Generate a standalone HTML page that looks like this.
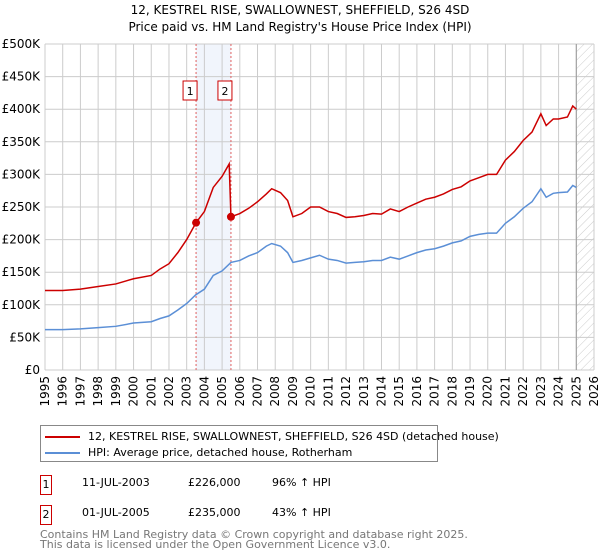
<!DOCTYPE html>
<html><head><meta charset="utf-8">
<style>
body{margin:0;background:#fff;font-family:"DejaVu Sans","Liberation Sans",sans-serif;}
#wrap{position:relative;width:600px;height:560px;overflow:hidden}
.t{position:absolute;font-size:12px;color:#000;white-space:nowrap}
</style></head><body>
<div id="wrap">
<svg id="chart" width="600" height="420" style="position:absolute;left:0;top:0"></svg>
<div style="position:absolute;left:40px;top:425px;width:396px;height:35px;border:1px solid #888;background:#fff">
 <div style="position:absolute;left:4px;top:4px;font-size:11px;white-space:nowrap"><span style="display:inline-block;width:35px;height:2px;background:#cc0000;vertical-align:middle;margin-right:8px"></span>12, KESTREL RISE, SWALLOWNEST, SHEFFIELD, S26 4SD (detached house)</div>
 <div style="position:absolute;left:4px;top:20px;font-size:11px;white-space:nowrap"><span style="display:inline-block;width:35px;height:2px;background:#5b8fd6;vertical-align:middle;margin-right:8px"></span>HPI: Average price, detached house, Rotherham</div>
</div>
<div style="position:absolute;left:40px;top:475px;width:10px;height:18px;border:1px solid #c00;font-size:11px;line-height:18px;text-align:center">1</div>
<div class="t" style="left:82px;top:476px;font-size:11px">11-JUL-2003</div>
<div class="t" style="left:188px;top:476px;font-size:11px">£226,000</div>
<div class="t" style="left:272px;top:476px;font-size:11px">96% ↑ HPI</div>
<div style="position:absolute;left:40px;top:505px;width:10px;height:18px;border:1px solid #c00;font-size:11px;line-height:18px;text-align:center">2</div>
<div class="t" style="left:82px;top:506px;font-size:11px">01-JUL-2005</div>
<div class="t" style="left:188px;top:506px;font-size:11px">£235,000</div>
<div class="t" style="left:272px;top:506px;font-size:11px">43% ↑ HPI</div>
<div class="t" style="left:40px;top:530px;font-size:11px;color:#777;line-height:10px">Contains HM Land Registry data © Crown copyright and database right 2025.<br>This data is licensed under the Open Government Licence v3.0.</div>
</div>
<script>
const hpiYears=[1995,1996,1997,1997.5,1998,1999,2000,2001,2001.5,2002,2002.5,2003,2003.5,2004,2004.5,2005,2005.5,2006,2006.5,2007,2007.5,2007.8,2008.3,2008.7,2009,2009.5,2010,2010.5,2011,2011.5,2012,2012.5,2013,2013.5,2014,2014.5,2015,2015.5,2016,2016.5,2017,2017.5,2018,2018.5,2019,2019.5,2020,2020.5,2021,2021.5,2022,2022.5,2023,2023.3,2023.7,2024,2024.5,2024.8,2025];
const hpiValues=[62,62,63,64,65,67,72,74,79,83,92,102,115,124,145,152,165,168,175,180,190,194,190,180,165,168,172,176,170,168,164,165,166,168,168,173,170,175,180,184,186,190,195,198,205,208,210,210,225,235,248,258,278,265,271,272,273,283,280];
const priceYears=[1995,1996,1997,1998,1999,2000,2001,2001.5,2002,2002.5,2003,2003.53,2004,2004.5,2005,2005.4,2005.5,2006,2006.5,2007,2007.5,2007.8,2008.3,2008.7,2009,2009.5,2010,2010.5,2011,2011.5,2012,2012.5,2013,2013.5,2014,2014.5,2015,2015.5,2016,2016.5,2017,2017.5,2018,2018.5,2019,2019.5,2020,2020.5,2021,2021.5,2022,2022.5,2023,2023.3,2023.7,2024,2024.5,2024.8,2025];
const priceValues=[122,122,124,128,132,140,145,155,163,180,200,226,243,280,297,316,235,240,248,258,270,278,272,260,235,240,250,250,243,240,234,235,237,240,239,247,243,250,256,262,265,270,277,281,290,295,300,300,322,335,352,365,393,375,385,385,388,405,400];
const saleYears=[2003.53,2005.5];
const saleValues=[226,235];
const saleLabels=["1","2"];
const yTicks=[0,50,100,150,200,250,300,350,400,450,500];
const yTickLabels=["£0","£50K","£100K","£150K","£200K","£250K","£300K","£350K","£400K","£450K","£500K"];
const xTicks=[1995,1996,1997,1998,1999,2000,2001,2002,2003,2004,2005,2006,2007,2008,2009,2010,2011,2012,2013,2014,2015,2016,2017,2018,2019,2020,2021,2022,2023,2024,2025,2026];

const L=45,R=594,T=44,B=370,X0=1995,X1=2026,YMAX=500;
const xs=v=>L+(v-X0)/(X1-X0)*(R-L);
const ys=v=>B-v/YMAX*(B-T);
const svg=document.getElementById('chart');
const NS='http://www.w3.org/2000/svg';
function mk(tag,attrs){const e=document.createElementNS(NS,tag);for(const k in attrs)e.setAttribute(k,attrs[k]);svg.appendChild(e);return e;}

const title=mk('text',{x:300,y:14,'text-anchor':'middle','font-size':12,'font-family':'DejaVu Sans, Liberation Sans, sans-serif'});
title.textContent='12, KESTREL RISE, SWALLOWNEST, SHEFFIELD, S26 4SD';


const sub=mk('text',{x:300,y:31,'text-anchor':'middle','font-size':12,'font-family':'DejaVu Sans, Liberation Sans, sans-serif'});
sub.textContent="Price paid vs. HM Land Registry's House Price Index (HPI)";



const sh=mk('rect',{x:xs(saleYears[0]),y:T,width:xs(saleYears[1])-xs(saleYears[0]),height:B-T,fill:'#e8eefa',opacity:0.6});


const defs=mk('defs',{});
defs.innerHTML='<pattern id="hatch" width="6" height="6" patternUnits="userSpaceOnUse" patternTransform="rotate(45)"><line x1="0" y1="0" x2="0" y2="6" stroke="#ccc" stroke-width="1"/></pattern>';
const hz=mk('rect',{x:xs(2025),y:T,width:R-xs(2025),height:B-T,fill:'url(#hatch)'});



xTicks.forEach(t=>{const l=mk('line',{x1:xs(t),x2:xs(t),y1:T,y2:B,stroke:'#ccc','stroke-width':1});


const tx=mk('text',{x:0,y:0,'font-size':12,'text-anchor':'end',transform:`translate(${xs(t)+4},${B+6}) rotate(-90)`,'font-family':'DejaVu Sans, Liberation Sans, sans-serif'});
tx.textContent=t;

});
yTicks.forEach((t,i)=>{const l=mk('line',{x1:L,x2:R,y1:ys(t),y2:ys(t),stroke:'#ccc','stroke-width':1});


const tx=mk('text',{x:L-5,y:ys(t)+4,'font-size':12,'text-anchor':'end','font-family':'DejaVu Sans, Liberation Sans, sans-serif'});
tx.textContent=yTickLabels[i];

});
const nl=mk('line',{x1:xs(2025),x2:xs(2025),y1:T,y2:B,stroke:'#999','stroke-width':1});



saleYears.forEach((y,i)=>{const l=mk('line',{x1:xs(y),x2:xs(y),y1:T,y2:B,stroke:'#e06060','stroke-width':1,'stroke-dasharray':'2,2'});


const r=mk('rect',{x:xs(y)-13,y:81,width:14,height:19,fill:'#fff',stroke:'#c00'});


const tx=mk('text',{x:xs(y)-6,y:95,'font-size':11,'text-anchor':'middle','font-family':'DejaVu Sans, sans-serif'});
tx.textContent=saleLabels[i];

});

const hp=mk('polyline',{points:hpiYears.map((y,i)=>xs(y)+','+ys(hpiValues[i])).join(' '),fill:'none',stroke:'#5b8fd6','stroke-width':1.5});


const pp=mk('polyline',{points:priceYears.map((y,i)=>xs(y)+','+ys(priceValues[i])).join(' '),fill:'none',stroke:'#cc0000','stroke-width':1.5});


saleYears.forEach((y,i)=>{const c=mk('circle',{cx:xs(y),cy:ys(saleValues[i]),r:4,fill:'#cc0000'});

});
</script>
</body></html>
